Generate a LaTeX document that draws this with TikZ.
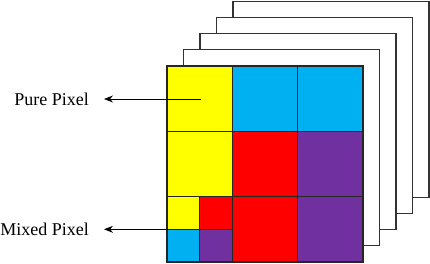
\documentclass[tikz,border=0pt]{standalone}
\usepackage{fontspec}
\setmainfont{Liberation Serif}
\usetikzlibrary{arrows.meta}
\definecolor{pyellow}{RGB}{255,255,0}
\definecolor{pblue}{RGB}{0,176,240}
\definecolor{pred}{RGB}{255,0,0}
\definecolor{ppurple}{RGB}{112,48,160}
\tikzset{
    cell/.style={draw=black!85,line width=1.1pt},
    layer/.style={draw=black!80,fill=white,line width=1.1pt},
    lbl/.style={anchor=east,inner xsep=15pt,inner ysep=2pt,font=\fontsize{18}{20}\selectfont},
    pointer/.style={line width=0.9pt,-{Stealth[length=9pt,width=7pt]}}
}
\begin{document}
\begin{tikzpicture}[x=1pt,y=-1pt]
    \useasboundingbox (0,0) rectangle (430,264);
    % stacked bands behind the image
    \foreach \i in {4,3,2,1}{
        \draw[layer] ({167+16.5*\i},{66-16.2*\i}) rectangle ++(196,196);
    }
    % big cells: column/row/colour
    \foreach \c/\r/\col in {0/0/pyellow,1/0/pblue,2/0/pblue,
                            0/1/pyellow,1/1/pred,2/1/ppurple,
                            1/2/pred,2/2/ppurple}{
        \draw[cell,fill=\col] ({167+65.33*\c},{66+65.33*\r}) rectangle ++(65.33,65.33);
    }
    % the mixed cell, split in four
    \foreach \c/\r/\col in {0/0/pyellow,1/0/pred,0/1/pblue,1/1/ppurple}{
        \draw[cell,fill=\col] ({167+32.67*\c},{196.67+32.67*\r}) rectangle ++(32.67,32.67);
    }
    \coordinate (pure src) at (201,99);
    \coordinate (mixed src) at (168,229.3);
    \node[lbl] (pure) at (104,99) {Pure Pixel};
    \node[lbl] (mixed) at (104,229.3) {Mixed Pixel};
    \draw[pointer] (pure src) -- (pure.east);
    \draw[pointer] (mixed src) -- (mixed.east);
\end{tikzpicture}
\end{document}
